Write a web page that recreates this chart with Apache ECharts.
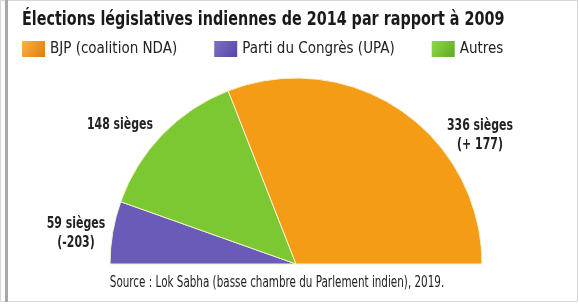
<!DOCTYPE html>
<html>
<head>
<meta charset="utf-8">
<script src="https://cdn.jsdelivr.net/npm/echarts@6/dist/echarts.min.js"></script>
<style>
  html, body { margin: 0; padding: 0; background: #fff; }
  #chart { width: 579px; height: 304px; }
</style>
</head>
<body>
<div id="chart"></div>
<script>
const partis = ["Parti du Congrès (UPA)", "Autres", "BJP (coalition NDA)"];
const sieges = [59, 148, 336];
const variations = ["(-203)", "", "(+ 177)"];
const couleurs = ["#6b5bb8", "#7cc832", "#f59c16"];
const ordreLegende = ["BJP (coalition NDA)", "Parti du Congrès (UPA)", "Autres"];

// positions des étiquettes (centre du texte)
const posEtiquettes = [[76, 233], [120, 125], [480, 135]];

const chart = echarts.init(document.getElementById("chart"));
const police = "'DejaVu Sans Condensed', sans-serif";

const degrade = (clair, fonce) => ({
    type: "linear", x: 0, y: 0, x2: 1, y2: 1,
    colorStops: [{ offset: 0, color: clair }, { offset: 1, color: fonce }],
});
const couleursLegende = {
    "BJP (coalition NDA)": degrade("#f7b347", "#e07d0c"),
    "Parti du Congrès (UPA)": degrade("#7d6fc6", "#5646a3"),
    "Autres": degrade("#92d84c", "#5ea924"),
};

const donnees = partis.map((nom, i) => ({
    name: nom,
    value: sieges[i],
    itemStyle: { color: couleurs[i] },
}));

// étiquettes des parts, en texte condensé
const etiquettes = partis.map((nom, i) => ({
    type: "text",
    x: posEtiquettes[i][0],
    y: posEtiquettes[i][1],
    scaleX: 0.76,
    style: {
        text: variations[i] ? `${sieges[i]} sièges\n${variations[i]}` : `${sieges[i]} sièges`,
        fontFamily: police,
        fontSize: 16,
        fontWeight: "bold",
        lineHeight: 19,
        fill: "#222",
        align: "center",
        verticalAlign: "middle",
    },
}));

chart.setOption({
    animation: false,
    legend: {
        data: ordreLegende.map((nom) => ({
            name: nom,
            itemStyle: { color: couleursLegende[nom], borderWidth: 0 },
        })),
        left: 22,
        top: 41,
        padding: 0,
        itemWidth: 23,
        itemHeight: 16,
        itemGap: 37,
        icon: "rect",
        textStyle: { fontFamily: police, fontSize: 15, color: "#222" },
    },
    series: [
        {
            type: "pie",
            center: [296, 264],
            radius: [0, 186],
            startAngle: 180,
            endAngle: 0,
            clockwise: true,
            data: donnees,
            itemStyle: { borderColor: "#f4f1d0", borderWidth: 1 },
            label: { show: false },
            labelLine: { show: false },
            emphasis: { disabled: true },
        },
    ],
    graphic: [
        {
            type: "rect",
            shape: { x: 0.5, y: 0.5, width: 577, height: 301 },
            style: { fill: "none", stroke: "#d6d6d6", lineWidth: 1 },
            z: -1,
        },
        {
            type: "line",
            shape: { x1: 6.5, y1: 0, x2: 6.5, y2: 302 },
            style: { stroke: "#a8a8a8", lineWidth: 3 },
        },
        {
            type: "text",
            x: 22,
            y: 11,
            scaleX: 0.84,
            style: {
                text: "Élections législatives indiennes de 2014 par rapport à 2009",
                fontFamily: police,
                fontSize: 19,
                fontWeight: "bold",
                fill: "#1a1a1a",
            },
        },
        ...etiquettes,
        {
            type: "text",
            x: 277,
            y: 283,
            scaleX: 0.77,
            style: {
                text: "Source : Lok Sabha (basse chambre du Parlement indien), 2019.",
                fontFamily: police,
                fontSize: 15,
                fill: "#222",
                align: "center",
                verticalAlign: "middle",
            },
        },
    ],
});
</script>
</body>
</html>
